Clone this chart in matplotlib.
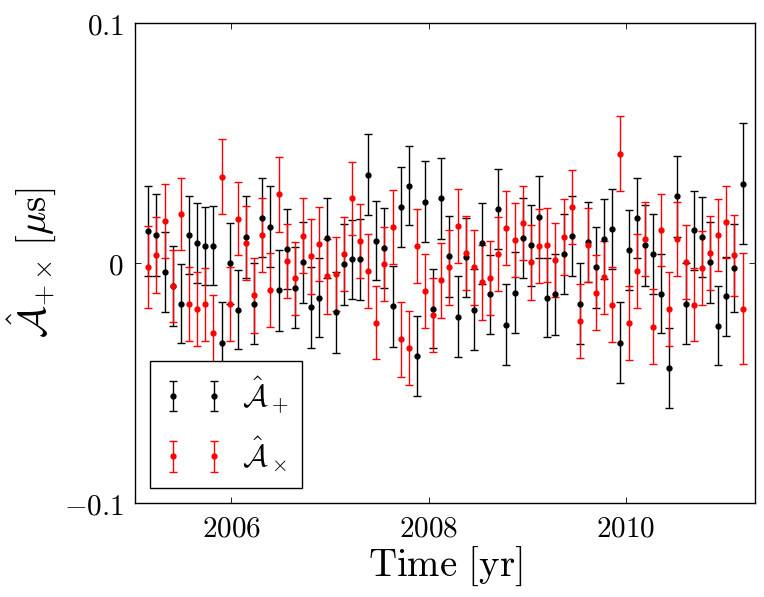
import matplotlib
matplotlib.use("Agg")
import matplotlib.pyplot as plt

OUT_PLOT = "out.png"

# epochs [yr]
time_yr = [
    2005.156, 2005.239, 2005.321, 2005.404, 2005.486, 2005.569, 2005.652, 2005.734,
    2005.817, 2005.899, 2005.982, 2006.065, 2006.147, 2006.230, 2006.312, 2006.395,
    2006.478, 2006.560, 2006.643, 2006.725, 2006.808, 2006.891, 2006.973, 2007.056,
    2007.138, 2007.221, 2007.304, 2007.386, 2007.469, 2007.551, 2007.634, 2007.717,
    2007.799, 2007.882, 2007.964, 2008.047, 2008.130, 2008.212, 2008.295, 2008.377,
    2008.460, 2008.543, 2008.625, 2008.708, 2008.790, 2008.873, 2008.956, 2009.038,
    2009.121, 2009.203, 2009.286, 2009.369, 2009.451, 2009.534, 2009.616, 2009.699,
    2009.782, 2009.864, 2009.947, 2010.029, 2010.112, 2010.195, 2010.277, 2010.360,
    2010.442, 2010.525, 2010.608, 2010.690, 2010.773, 2010.855, 2010.938, 2011.021,
    2011.103, 2011.186,
]

# A_plus [us]
a_plus = [
    0.0136, 0.0119, -0.0036, -0.0094, -0.0168, 0.0119, 0.0084, 0.0073, 0.0073, -0.0331,
    0.0000, -0.0193, 0.0109, -0.0168, 0.0190, 0.0152, -0.0113, 0.0060, -0.0101, 0.0004,
    -0.0184, -0.0143, 0.0106, -0.0205, -0.0004, 0.0017, 0.0017, 0.0369, 0.0094, 0.0063,
    -0.0180, 0.0235, 0.0323, -0.0386, 0.0256, -0.0189, 0.0270, 0.0029, -0.0222, 0.0025,
    -0.0193, 0.0084, -0.0130, 0.0226, -0.0256, -0.0122, 0.0105, 0.0075, 0.0193, -0.0143,
    -0.0130, 0.0038, 0.0113, -0.0168, 0.0088, -0.0017, 0.0101, 0.0143, -0.0331, 0.0055,
    0.0189, 0.0075, 0.0038, -0.0126, -0.0436, 0.0280, -0.0168, 0.0138, 0.0109, 0.0004,
    -0.0260, -0.0138, -0.0021, 0.0331,
]

a_plus_err = [
    0.0187, 0.0171, 0.0165, 0.0166, 0.0164, 0.0162, 0.0168, 0.0163, 0.0165, 0.0168,
    0.0168, 0.0165, 0.0170, 0.0170, 0.0165, 0.0168, 0.0169, 0.0168, 0.0168, 0.0169,
    0.0169, 0.0165, 0.0168, 0.0169, 0.0168, 0.0165, 0.0169, 0.0168, 0.0165, 0.0168,
    0.0168, 0.0168, 0.0165, 0.0168, 0.0169, 0.0165, 0.0168, 0.0169, 0.0168, 0.0165,
    0.0168, 0.0169, 0.0165, 0.0168, 0.0169, 0.0168, 0.0168, 0.0169, 0.0169, 0.0165,
    0.0168, 0.0168, 0.0168, 0.0168, 0.0168, 0.0168, 0.0165, 0.0168, 0.0168, 0.0168,
    0.0165, 0.0168, 0.0168, 0.0165, 0.0168, 0.0169, 0.0168, 0.0165, 0.0168, 0.0168,
    0.0165, 0.0165, 0.0184, 0.0252,
]

# A_cross [us]
a_cross = [
    -0.0017, 0.0035, 0.0177, -0.0094, 0.0205, -0.0168, -0.0189, -0.0171, -0.0289, 0.0361,
    -0.0171, 0.0186, 0.0084, -0.0134, 0.0119, -0.0113, 0.0287, 0.0008, -0.0063, 0.0115,
    0.0029, 0.0080, -0.0055, -0.0045, 0.0038, 0.0270, 0.0094, -0.0034, -0.0247, -0.0003,
    0.0152, -0.0317, -0.0352, 0.0073, -0.0117, -0.0214, -0.0071, -0.0017, 0.0155, 0.0042,
    -0.0017, -0.0080, -0.0063, 0.0039, 0.0148, 0.0096, 0.0168, 0.0004, 0.0071, 0.0075,
    0.0013, 0.0110, 0.0235, -0.0242, 0.0075, -0.0122, -0.0059, -0.0172, 0.0457, -0.0247,
    -0.0034, 0.0101, -0.0264, 0.0138, -0.0189, 0.0101, 0.0004, -0.0172, -0.0021, 0.0042,
    0.0117, 0.0172, 0.0034, -0.0189,
]

a_cross_err = [
    0.0171, 0.0157, 0.0154, 0.0151, 0.0151, 0.0154, 0.0154, 0.0151, 0.0155, 0.0155,
    0.0154, 0.0151, 0.0155, 0.0155, 0.0154, 0.0154, 0.0157, 0.0154, 0.0151, 0.0155,
    0.0155, 0.0154, 0.0155, 0.0155, 0.0154, 0.0154, 0.0155, 0.0154, 0.0151, 0.0154,
    0.0155, 0.0155, 0.0154, 0.0155, 0.0154, 0.0154, 0.0155, 0.0155, 0.0155, 0.0154,
    0.0155, 0.0155, 0.0154, 0.0154, 0.0155, 0.0154, 0.0154, 0.0155, 0.0155, 0.0154,
    0.0155, 0.0157, 0.0154, 0.0154, 0.0155, 0.0155, 0.0151, 0.0155, 0.0157, 0.0154,
    0.0154, 0.0155, 0.0155, 0.0151, 0.0154, 0.0155, 0.0154, 0.0151, 0.0154, 0.0154,
    0.0151, 0.0151, 0.0169, 0.0232,
]

x_ticks = [2006, 2008, 2010]
x_tick_labels = ["$2006$", "$2008$", "$2010$"]
y_ticks = [-0.1, 0.0, 0.1]
y_tick_labels = ["$-0.1$", "$0$", "$0.1$"]


def main():
    plt.rcParams["mathtext.fontset"] = "cm"
    plt.rcParams["font.family"] = "serif"

    fig = plt.figure(figsize=(7.64, 5.97), dpi=100)
    ax = fig.add_axes([0.1763, 0.157, 0.8123, 0.804])

    ax.errorbar(time_yr, a_plus, yerr=a_plus_err, fmt="o", color="black",
                ms=3.5, mew=1, capsize=3, elinewidth=1, capthick=1,
                label=r"$\hat{\mathcal{A}}_+$")
    ax.errorbar(time_yr, a_cross, yerr=a_cross_err, fmt="o", color="red",
                ms=3.5, mew=1, capsize=3, elinewidth=1, capthick=1,
                label=r"$\hat{\mathcal{A}}_\times$")

    ax.set_xlim(2005.018, 2011.315)
    ax.set_ylim(-0.1, 0.1)
    ax.set_xticks(x_ticks)
    ax.set_xticklabels(x_tick_labels)
    ax.set_yticks(y_ticks)
    ax.set_yticklabels(y_tick_labels)
    ax.tick_params(direction="in", top=True, right=True, length=4.5,
                   width=0.6, labelsize=21, pad=8)
    for s in ax.spines.values():
        s.set_linewidth(1.0)

    ax.set_xlabel(r"$\mathrm{Time}\ [\mathrm{yr}]$", fontsize=28, labelpad=2)
    ax.set_ylabel(r"$\hat{\mathcal{A}}_{+\times}\,[\mu\mathrm{s}]$",
                  fontsize=28, labelpad=4)

    leg = ax.legend(loc="lower left", bbox_to_anchor=(0.0247, 0.032),
                    borderaxespad=0, numpoints=2, fontsize=22,
                    fancybox=False, framealpha=1, handlelength=1.95,
                    handletextpad=0.6, labelspacing=0.6, borderpad=0.45)
    leg.get_frame().set_edgecolor("black")
    leg.get_frame().set_linewidth(1.0)

    fig.savefig(OUT_PLOT, dpi=100)


if __name__ == "__main__":
    main()
